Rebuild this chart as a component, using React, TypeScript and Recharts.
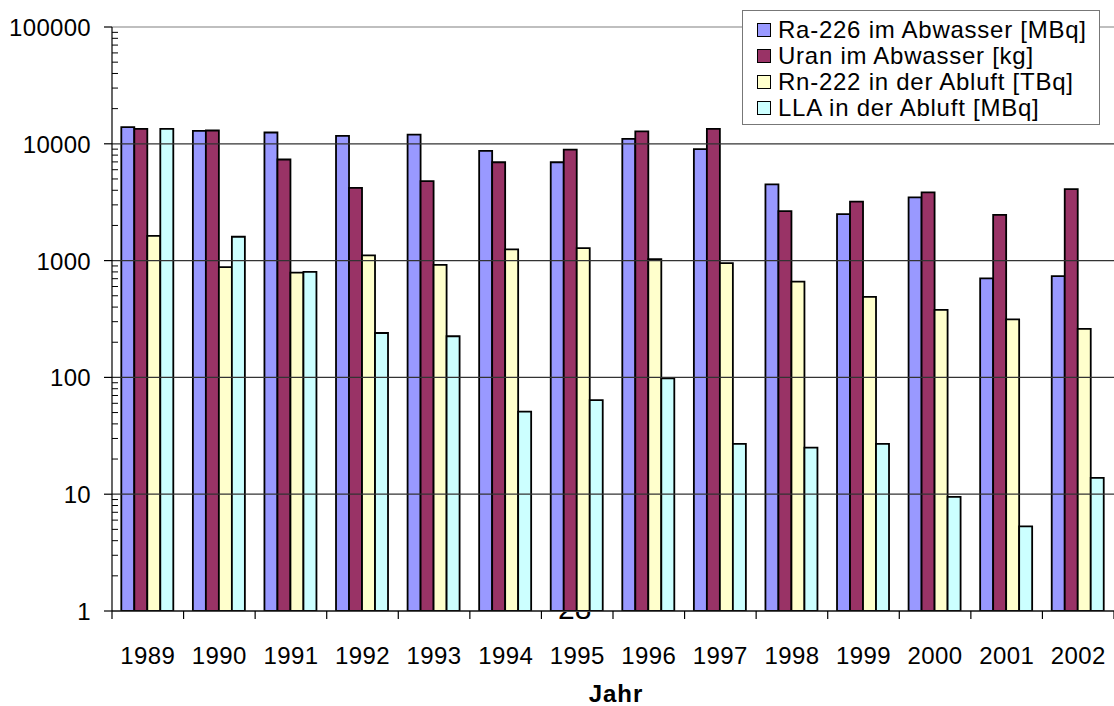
import { BarChart, Bar, XAxis, YAxis, ReferenceLine } from "recharts";

const years = ["1989", "1990", "1991", "1992", "1993", "1994", "1995", "1996", "1997", "1998", "1999", "2000", "2001", "2002"];
const ra226 = [13900, 12900, 12500, 11700, 12000, 8700, 6950, 11000, 9000, 4500, 2500, 3480, 705, 735];
const uran = [13400, 13000, 7340, 4200, 4790, 6950, 8900, 12800, 13400, 2650, 3200, 3840, 2460, 4100];
const rn222 = [1625, 880, 790, 1110, 920, 1250, 1280, 1030, 950, 660, 490, 378, 314, 260];
const lla = [13400, 1600, 800, 240, 225, 51, 64, 98, 27, 25, 27, 9.5, 5.3, 13.8];

const decades = [1, 10, 100, 1000, 10000, 100000];
const yTicks = decades.flatMap((d) => (d === 100000 ? [d] : [1, 2, 3, 4, 5, 6, 7, 8, 9].map((m) => m * d)));

const series = [
  { key: "ra", name: "Ra-226 im Abwasser [MBq]", color: "#9999FF" },
  { key: "uran", name: "Uran im Abwasser [kg]", color: "#993366" },
  { key: "rn", name: "Rn-222 in der Abluft [TBq]", color: "#FFFFCC" },
  { key: "lla", name: "LLA in der Abluft [MBq]", color: "#CCFFFF" },
];

const data = years.map((y, i) => ({ year: y, ra: ra226[i], uran: uran[i], rn: rn222[i], lla: lla[i] }));

const FONT = "'Liberation Sans', Arial, sans-serif";
const W = 1114;
const H = 706;
const LEFT = 112;
const TOP = 27;
const BOTTOM = 95;
const AXIS_Y = H - BOTTOM;
const BAND = (W - LEFT) / years.length;

const YTick = (p: any) => {
  const v = p.payload.value;
  const major = decades.includes(v);
  return (
    <g>
      {major ? (
        <>
          <line x1={LEFT - 8} x2={LEFT} y1={p.y} y2={p.y} stroke="#000" strokeWidth={1.2} />
          <text x={91} y={p.y + 9} textAnchor="end" fontSize={24} letterSpacing={0.3} fontFamily={FONT} fill="#000">
            {v}
          </text>
        </>
      ) : (
        <line x1={LEFT} x2={LEFT + 6} y1={p.y} y2={p.y} stroke="#000" strokeWidth={1} />
      )}
    </g>
  );
};

const XTick = (p: any) => {
  const left = p.x - BAND / 2;
  const last = p.index === years.length - 1;
  return (
    <g>
      <line x1={left} x2={left} y1={AXIS_Y} y2={AXIS_Y + 8} stroke="#000" strokeWidth={1.2} />
      {last && <line x1={left + BAND} x2={left + BAND} y1={AXIS_Y} y2={AXIS_Y + 8} stroke="#000" strokeWidth={1.2} />}
      <text x={p.x} y={AXIS_Y + 53} textAnchor="middle" fontSize={24} letterSpacing={0.4} fontFamily={FONT} fill="#000">
        {p.payload.value}
      </text>
    </g>
  );
};

export default function App() {
  return (
    <div style={{ position: "absolute", left: 0, top: 0, width: W, height: H, background: "#fff", fontFamily: FONT }}>
      <BarChart
        width={W}
        height={H}
        data={data}
        margin={{ top: TOP, right: 0, bottom: 0, left: 0 }}
        barCategoryGap="13%"
        barGap={0}
      >
        {decades.map((d) => (
          <ReferenceLine key={d} y={d} stroke={d === 100000 ? "#808080" : "#333"} strokeWidth={1.2} />
        ))}
        <XAxis dataKey="year" axisLine={{ stroke: "#000", strokeWidth: 1.2 }} tickLine={false} tick={XTick} interval={0} height={BOTTOM} />
        <YAxis
          scale="log"
          domain={[1, 100000]}
          ticks={yTicks}
          interval={0}
          allowDataOverflow
          axisLine={{ stroke: "#000", strokeWidth: 1.2 }}
          tickLine={false}
          tick={YTick}
          width={LEFT}
        />
        {series.map((s) => (
          <Bar key={s.key} dataKey={s.key} name={s.name} fill={s.color} stroke="#000" strokeWidth={1.8} isAnimationActive={false} />
        ))}
      </BarChart>
      <svg width={W} height={H} style={{ position: "absolute", left: 0, top: 0, pointerEvents: "none" }}>
        <text x={616} y={702} textAnchor="middle" fontSize={24} letterSpacing={1} fontWeight="bold" fontFamily={FONT} fill="#000">
          Jahr
        </text>
      </svg>
      <div style={{ position: "absolute", left: 558, top: AXIS_Y + 1, height: 10, overflow: "hidden", width: 40 }}>
        <div style={{ fontSize: 30, lineHeight: "30px", marginTop: -18, fontFamily: FONT, color: "#000" }}>28</div>
      </div>
      <div
        style={{
          position: "absolute",
          left: 742,
          top: 10,
          width: 358,
          height: 115,
          background: "#fff",
          border: "1px solid #777",
          padding: "6px 0 0 14px",
          boxSizing: "border-box",
        }}
      >
        {series.map((s) => (
          <div
            key={s.key}
            style={{ display: "flex", alignItems: "center", height: 26, fontSize: 24, letterSpacing: 0.75, color: "#000", whiteSpace: "nowrap" }}
          >
            <span
              style={{
                display: "inline-block",
                width: 12,
                height: 12,
                background: s.color,
                border: "1.5px solid #000",
                marginRight: 7,
              }}
            />
            {s.name}
          </div>
        ))}
      </div>
    </div>
  );
}
